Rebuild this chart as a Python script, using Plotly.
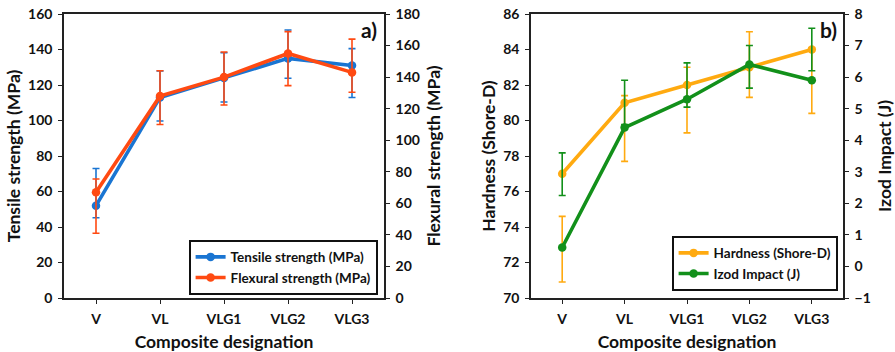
import plotly.graph_objects as go

# ---------------- data ----------------
categories = ["V", "VL", "VLG1", "VLG2", "VLG3"]

tensile = [52, 113, 124, 135, 131]
tensile_err_hi = [73.0, 127.9, 138.2, 151.0, 140.5]
tensile_err_lo = [45.2, 99.7, 110.4, 123.8, 113.0]

flexural = [67, 128, 140, 155, 143]
flexural_err_hi = [75.4, 144.0, 155.9, 168.8, 164.1]
flexural_err_lo = [41.0, 110.0, 122.3, 134.6, 130.4]

hardness = [77, 81, 82, 83, 84]
hardness_err_hi = [74.6, 81.4, 83.0, 85.0, 84.1]
hardness_err_lo = [70.9, 77.7, 79.3, 81.3, 80.4]

izod = [0.6, 4.4, 5.3, 6.4, 5.9]
izod_err_hi = [3.6, 5.9, 6.45, 7.0, 7.55]
izod_err_lo = [2.25, 4.5, 5.05, 5.65, 6.2]

C_BLUE = "#1A75D2"
C_RED = "#FF4A12"
C_ORANGE = "#FFAA10"
C_GREEN = "#12901A"
AX = "#222222"
FONT = "Lato"


def err(vals, hi, lo, color):
    return dict(type="data", symmetric=False,
                array=[h - v for h, v in zip(hi, vals)],
                arrayminus=[v - l for v, l in zip(vals, lo)],
                color=color, thickness=1.6, width=3.5)


def line_trace(name, vals, hi, lo, color, xa, ya, legend):
    return go.Scatter(
        x=categories, y=vals, name=name, mode="lines+markers",
        line=dict(color=color, width=3.6),
        marker=dict(color=color, size=8.5, symbol="circle"),
        error_y=err(vals, hi, lo, color),
        xaxis=xa, yaxis=ya, legend=legend,
    )


fig = go.Figure()
fig.add_trace(line_trace("Tensile strength (MPa)", tensile, tensile_err_hi, tensile_err_lo, C_BLUE, "x", "y", "legend"))
fig.add_trace(line_trace("Flexural strength (MPa)", flexural, flexural_err_hi, flexural_err_lo, C_RED, "x", "y2", "legend"))
fig.add_trace(line_trace("Hardness (Shore-D)", hardness, hardness_err_hi, hardness_err_lo, C_ORANGE, "x2", "y3", "legend2"))
fig.add_trace(line_trace("Izod Impact (J)", izod, izod_err_hi, izod_err_lo, C_GREEN, "x2", "y4", "legend2"))

W, H = 895, 352
ydom = [(H - 298) / H, (H - 14) / H]
xdom1 = [64 / W, 384 / W]
xdom2 = [531 / W, 843 / W]

tickfont = dict(family=FONT, size=14, color="#111", weight="bold")
titlefont = dict(family=FONT, size=17.5, color="#111", weight="bold")


def xaxis(dom, anchor):
    return dict(domain=dom, anchor=anchor, range=[-0.5, 4.5], type="category",
                automargin=False,
                showline=True, linecolor=AX, linewidth=1.6, mirror=True,
                ticks="outside", ticklen=4, tickcolor=AX, tickwidth=1,
                ticklabelstandoff=3,
                showgrid=False, zeroline=False, tickfont=tickfont,
                title=dict(text="Composite designation", font=titlefont, standoff=12))


def yaxis(rng, dtick, title, side="left", anchor="x", overlaying=None, standoff=3):
    d = dict(range=rng, dtick=dtick, tick0=rng[0], side=side, anchor=anchor,
             automargin=False,
             showline=True, linecolor=AX, linewidth=1.6,
             ticks="outside", ticklen=4, tickcolor=AX, tickwidth=1,
             ticklabelstandoff=3,
             showgrid=False, zeroline=False, tickfont=tickfont,
             title=dict(text=title, font=titlefont, standoff=standoff))
    if overlaying:
        d["overlaying"] = overlaying
    else:
        d["domain"] = ydom
    return d


legfont = dict(family=FONT, size=13.5, color="#111", weight="bold")

fig.update_layout(
    width=W, height=H,
    margin=dict(l=0, r=0, t=0, b=0, autoexpand=False),
    paper_bgcolor="white", plot_bgcolor="white",
    font=dict(family=FONT, weight="bold"),
    xaxis=xaxis(xdom1, "y"),
    xaxis2=xaxis(xdom2, "y3"),
    yaxis=yaxis([0, 160], 20, "Tensile strength (MPa)", anchor="x"),
    yaxis2=yaxis([0, 180], 20, "Flexural strength (MPa)", side="right", anchor="x", overlaying="y", standoff=9),
    yaxis3=yaxis([70, 86], 2, "Hardness (Shore-D)", anchor="x2"),
    yaxis4=yaxis([-1, 8], 1, "Izod Impact (J)", side="right", anchor="x2", overlaying="y3", standoff=9),
    legend=dict(x=378 / W, y=(H - 295) / H, xanchor="right", yanchor="bottom",
                xref="paper", yref="paper", bgcolor="white",
                bordercolor="#111", borderwidth=1.6, font=legfont,
                tracegroupgap=0, itemwidth=30),
    legend2=dict(x=838 / W, y=(H - 291) / H, xanchor="right", yanchor="bottom",
                 xref="paper", yref="paper", bgcolor="white",
                 bordercolor="#111", borderwidth=1.6, font=legfont,
                 tracegroupgap=0, itemwidth=30),
    annotations=[
        dict(text="a)", x=379 / W, y=(H - 30) / H, xref="paper", yref="paper",
             xanchor="right", yanchor="middle", showarrow=False,
             font=dict(family=FONT, size=21, color="#111", weight="bold")),
        dict(text="b)", x=839 / W, y=(H - 30) / H, xref="paper", yref="paper",
             xanchor="right", yanchor="middle", showarrow=False,
             font=dict(family=FONT, size=21, color="#111", weight="bold")),
    ],
    showlegend=True,
)

fig.write_html("out.html")
